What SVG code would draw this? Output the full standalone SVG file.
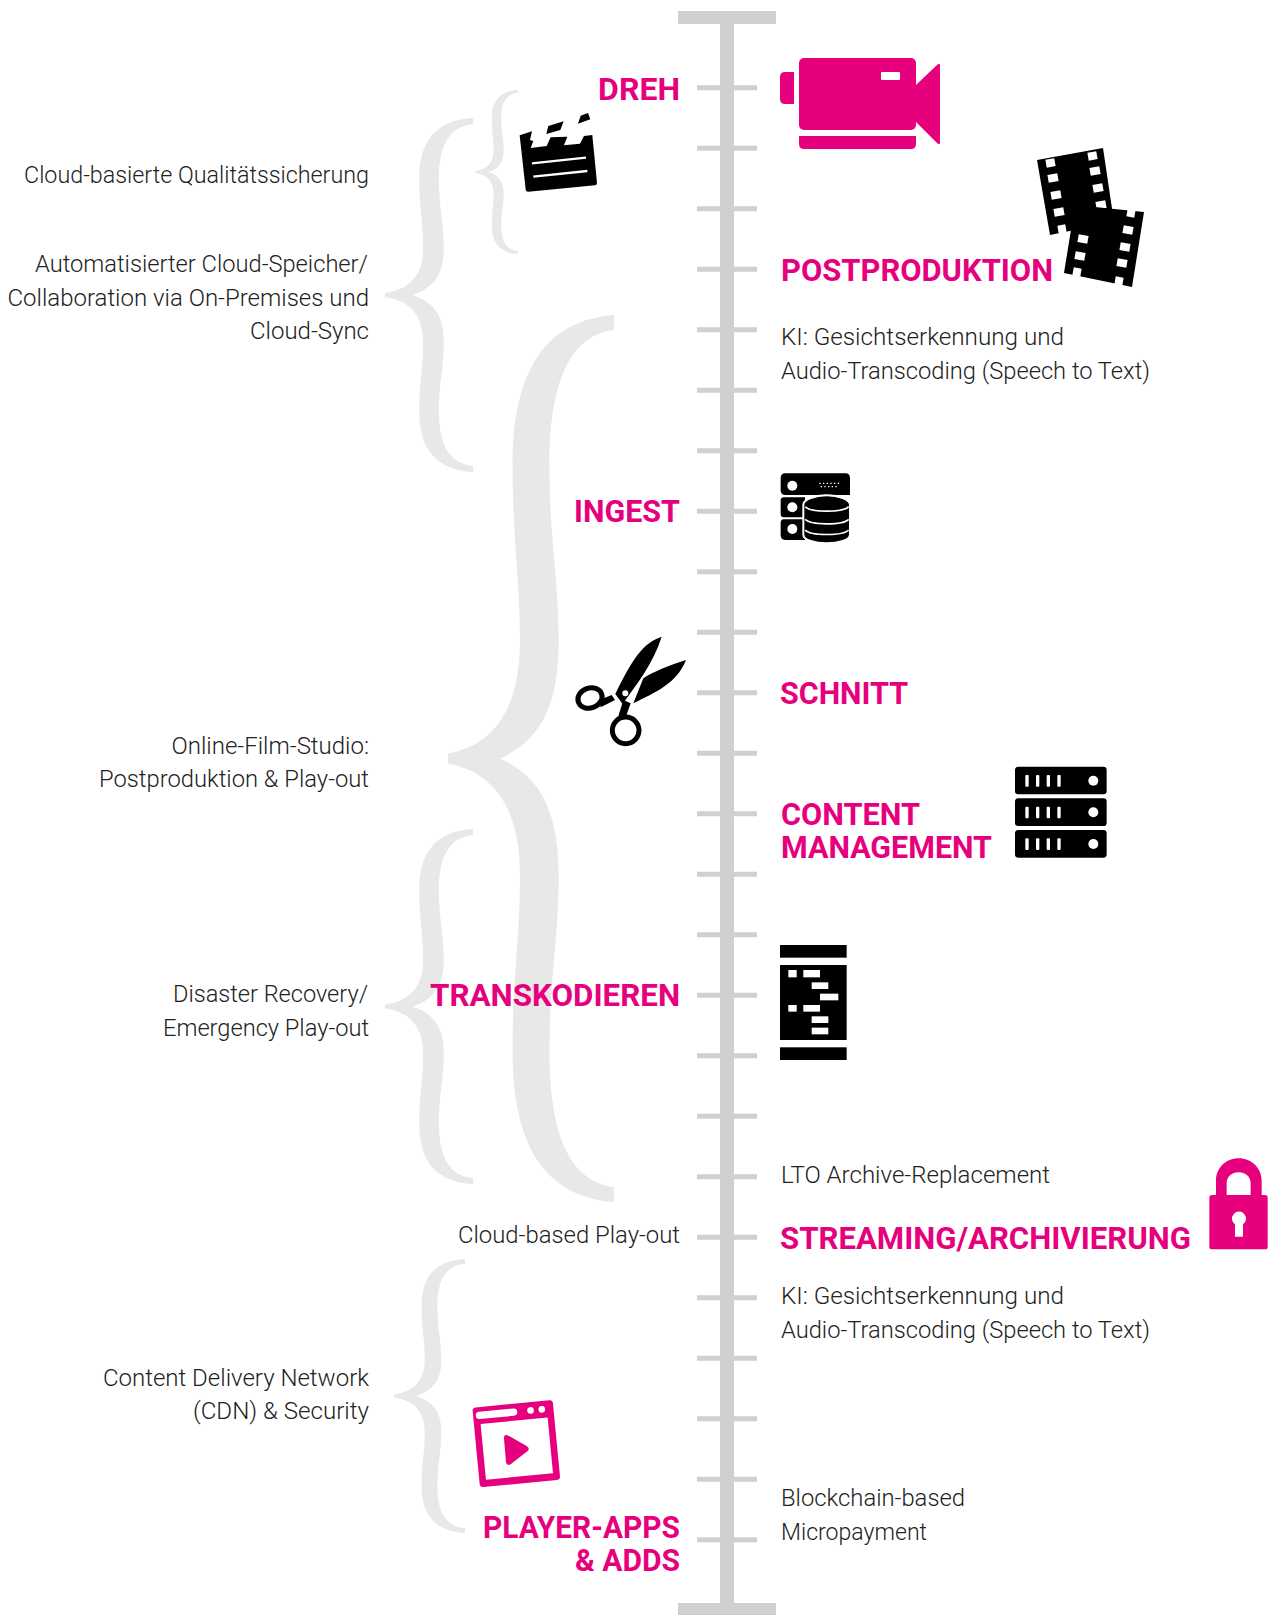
<svg xmlns="http://www.w3.org/2000/svg" width="1275" height="1615" viewBox="0 0 1275 1615">
<style>
.h{font-family:Roboto,"Liberation Sans",sans-serif;font-weight:700;font-size:32px;fill:#e6007e}
.t{font-family:Roboto,"Liberation Sans",sans-serif;font-weight:300;font-size:24px;fill:#222}
.e{text-anchor:end}
.p{fill:#e6007e}
.k{fill:#000}
.w{fill:#fff}
.b{fill:#e8e8e7}
.a{fill:#d0d0d0}
</style>
<defs>
<path id="brace" d="M90 0C55 2 35 20 35 60C35 90 39 105 39 130C39 160 22 172 0 175L0 179C22 182 39 194 39 224C39 249 35 264 35 294C35 334 55 352 90 354L90 348C68 346 55 330 55 294C55 264 60 249 60 224C60 198 50 184 28 177C50 170 60 156 60 130C60 105 55 90 55 60C55 24 68 8 90 6Z"/>
</defs>
<rect width="1275" height="1615" fill="#fff"/>
<g id="braces" class="b">
<use href="#brace" transform="translate(385 118) scale(.98 1)"/>
<use href="#brace" transform="translate(475 90) scale(.478 .463)"/>
<use href="#brace" transform="translate(448 315) scale(1.845 2.506)"/>
<use href="#brace" transform="translate(385 829) scale(.98 1.003)"/>
<use href="#brace" transform="translate(394 1259) scale(.789 .774)"/>
</g>
<g id="connectors" class="a">
<rect x="678" y="11" width="98" height="13"/>
<rect x="678" y="1603" width="98" height="12"/>
<rect x="720" y="11" width="14" height="1604"/>
<path d="M697 85.2h60v5h-60zM697 145.7h60v5h-60zM697 206.2h60v5h-60zM697 266.7h60v5h-60zM697 327.2h60v5h-60zM697 387.7h60v5h-60zM697 448.2h60v5h-60zM697 508.7h60v5h-60zM697 569.2h60v5h-60zM697 629.7h60v5h-60zM697 690.2h60v5h-60zM697 750.7h60v5h-60zM697 811.2h60v5h-60zM697 871.7h60v5h-60zM697 932.2h60v5h-60zM697 992.7h60v5h-60zM697 1053.2h60v5h-60zM697 1113.7h60v5h-60zM697 1174.2h60v5h-60zM697 1234.7h60v5h-60zM697 1295.2h60v5h-60zM697 1355.7h60v5h-60zM697 1416.2h60v5h-60zM697 1476.7h60v5h-60zM697 1537.2h60v5h-60z"/>
</g>
<g id="dreh"><text class="h e" x="680" y="100">DREH</text>
<g id="clapper" transform="translate(360 0) scale(.3333)" class="k">
<path d="M479 406L516 394L510 420L520 423L512 444L560 438L572 412L622 410L612 436L660 431L672 408L697 405L711 548Q712 555 705 556L505 575Q497 575 497 568Z"/>
<path d="M565 378L611 364L601 390L559 402ZM662 347L684 339L691 358L654 371Z"/>
<path d="M516 490L678 473M520 530L682 513" stroke="#fff" stroke-width="7"/>
</g>
<g id="camera" class="p">
<rect x="799" y="58" width="117" height="72" rx="5"/>
<path d="M799 136H916V144Q916 149 911 149H804Q799 149 799 144Z"/>
<path d="M794 72H785Q780 72 780 77V99Q780 104 785 104H794Z"/>
<path d="M916 85L937 65Q940 62 940 66V142Q940 146 937 143L916 122Z"/>
<rect class="w" x="881" y="72" width="19" height="8" rx="1"/>
</g></g>
<g id="postproduktion"><text class="h" x="781" y="281" textLength="272" lengthAdjust="spacingAndGlyphs">POSTPRODUKTION</text>
<g id="film">
<path class="k" d="M1037 160L1103 148L1114 222L1050 235Z"/>
<g class="w">
<rect x="1046" y="159" width="9" height="8" transform="rotate(-10 1050 163)"/><rect x="1088" y="152" width="9" height="8" transform="rotate(-10 1092 156)"/>
<rect x="1048" y="174" width="10" height="8" transform="rotate(-10 1053 178)"/><rect x="1051" y="191" width="10" height="8" transform="rotate(-10 1056 195)"/><rect x="1054" y="208" width="10" height="8" transform="rotate(-10 1059 212)"/>
<rect x="1090" y="167" width="10" height="8" transform="rotate(-10 1095 171)"/><rect x="1093" y="184" width="10" height="8" transform="rotate(-10 1098 188)"/><rect x="1096" y="201" width="10" height="8" transform="rotate(-10 1101 205)"/>
<rect x="1058" y="225" width="8" height="8" transform="rotate(-10 1062 229)"/>
</g>
<path class="k" d="M1075 205L1144 212L1132 287L1064 273Z"/>
<g class="w">
<rect x="1127" y="209" width="8" height="8" transform="rotate(10 1131 213)"/>
<rect x="1078" y="235" width="10" height="8" transform="rotate(10 1083 239)"/><rect x="1075" y="252" width="10" height="8" transform="rotate(10 1080 256)"/>
<rect x="1123" y="226" width="10" height="8" transform="rotate(10 1128 230)"/><rect x="1120" y="243" width="10" height="8" transform="rotate(10 1125 247)"/><rect x="1117" y="259" width="10" height="8" transform="rotate(10 1122 263)"/>
<rect x="1073" y="268" width="8" height="8" transform="rotate(10 1077 272)"/><rect x="1115" y="277" width="8" height="8" transform="rotate(10 1119 281)"/>
</g></g>
<text class="t" x="781" y="345" textLength="283" lengthAdjust="spacingAndGlyphs">KI: Gesichtserkennung und</text>
<text class="t" x="781" y="379" textLength="369" lengthAdjust="spacingAndGlyphs">Audio-Transcoding (Speech to Text)</text></g>
<g id="qa"><text class="t" x="24" y="183" textLength="345" lengthAdjust="spacingAndGlyphs">Cloud-basierte Qualitätssicherung</text></g>
<g id="cloud-speicher"><text class="t" x="35" y="272" textLength="333" lengthAdjust="spacingAndGlyphs">Automatisierter Cloud-Speicher/</text>
<text class="t e" x="369" y="306">Collaboration via On-Premises und</text>
<text class="t e" x="369" y="339">Cloud-Sync</text></g>
<g id="ingest"><text class="h" x="574" y="522" textLength="106" lengthAdjust="spacingAndGlyphs">INGEST</text>
<g id="database" transform="translate(770 460) scale(.3333)" class="k">
<path d="M46 40H226Q240 40 240 54V105H46Q32 105 32 91V54Q32 40 46 40Z"/>
<path d="M32 122Q32 112 42 112H105V172H42Q32 172 32 162Z"/>
<path d="M32 188Q32 178 42 178H105V240H46Q32 240 32 226Z"/>
<g class="w"><circle cx="67" cy="77" r="15"/><circle cx="67" cy="142" r="15"/><circle cx="67" cy="207" r="15"/></g>
<path d="M100 134C100 118 135 106 170 106S240 118 240 134V224C240 240 205 250 170 250S100 240 100 224Z" stroke="#fff" stroke-width="6"/>
<path d="M106 140C120 158 220 158 236 140M106 178C120 196 220 196 236 178M106 210C120 228 220 228 236 210" fill="none" stroke="#fff" stroke-width="5"/>
<path d="M148 70h60M152 80h52" stroke="#fff" stroke-width="4" stroke-dasharray="4 7" fill="none"/>
</g></g>
<g id="schnitt"><text class="h" x="780" y="704" textLength="128" lengthAdjust="spacingAndGlyphs">SCHNITT</text>
<g id="scissors" transform="translate(560 620) scale(.3333)">
<path class="k" d="M305 50C255 68 225 100 166 222L188 252C232 190 280 130 305 50Z"/>
<path class="k" d="M378 120C330 135 280 155 250 175L220 250C290 215 350 190 378 120Z"/>
<ellipse cx="90" cy="234" rx="37" ry="30" transform="rotate(-20 90 234)" fill="none" stroke="#000" stroke-width="15"/>
<path d="M122 262L165 240L155 225L118 240Z" class="k"/>
<circle cx="197" cy="331" r="40" fill="none" stroke="#000" stroke-width="15"/>
<path d="M190 240L212 250L197 292L170 305Z" class="k"/>
<circle class="w" cx="196" cy="220" r="9"/>
</g></g>
<g id="content-management"><text class="h" x="781" y="825" textLength="139" lengthAdjust="spacingAndGlyphs">CONTENT</text>
<text class="h" x="781" y="858" textLength="211" lengthAdjust="spacingAndGlyphs">MANAGEMENT</text>
<g id="servers" transform="translate(1000 755) scale(.3333)">
<g class="k"><rect x="45" y="35" width="275" height="83" rx="10"/><rect x="45" y="130" width="275" height="83" rx="10"/><rect x="45" y="225" width="275" height="83" rx="10"/></g>
<g class="w">
<rect x="76" y="60" width="10" height="35" rx="3"/><rect x="108" y="60" width="10" height="35" rx="3"/><rect x="140" y="60" width="10" height="35" rx="3"/><rect x="172" y="60" width="10" height="35" rx="3"/><circle cx="280" cy="77" r="15"/>
<rect x="76" y="155" width="10" height="35" rx="3"/><rect x="108" y="155" width="10" height="35" rx="3"/><rect x="140" y="155" width="10" height="35" rx="3"/><rect x="172" y="155" width="10" height="35" rx="3"/><circle cx="280" cy="172" r="15"/>
<rect x="76" y="250" width="10" height="35" rx="3"/><rect x="108" y="250" width="10" height="35" rx="3"/><rect x="140" y="250" width="10" height="35" rx="3"/><rect x="172" y="250" width="10" height="35" rx="3"/><circle cx="280" cy="267" r="15"/>
</g></g></g>
<g id="online-studio"><text class="t e" x="369" y="754">Online-Film-Studio:</text>
<text class="t" x="99" y="787" textLength="270" lengthAdjust="spacingAndGlyphs">Postproduktion &amp; Play-out</text></g>
<g id="disaster"><text class="t" x="173" y="1002" textLength="195" lengthAdjust="spacingAndGlyphs">Disaster Recovery/</text>
<text class="t" x="163" y="1036" textLength="206" lengthAdjust="spacingAndGlyphs">Emergency Play-out</text></g>
<g id="transkodieren"><text class="h" x="430" y="1006" textLength="250" lengthAdjust="spacingAndGlyphs">TRANSKODIEREN</text>
<g id="transcode" transform="translate(770 935) scale(.3333)">
<g class="k"><rect x="30" y="30" width="200" height="38"/><rect x="30" y="90" width="200" height="225"/><rect x="30" y="337" width="200" height="38"/></g>
<g class="w"><rect x="55" y="105" width="25" height="22"/><rect x="100" y="105" width="50" height="22"/><rect x="125" y="142" width="50" height="20"/><rect x="150" y="176" width="55" height="20"/><rect x="55" y="210" width="25" height="20"/><rect x="100" y="210" width="50" height="20"/><rect x="125" y="244" width="50" height="20"/><rect x="125" y="278" width="50" height="20"/></g>
</g></g>
<g id="lto"><text class="t" x="781" y="1183" textLength="269" lengthAdjust="spacingAndGlyphs">LTO Archive-Replacement</text></g>
<g id="playout"><text class="t" x="458" y="1243" textLength="222" lengthAdjust="spacingAndGlyphs">Cloud-based Play-out</text></g>
<g id="streaming"><text class="h" x="780" y="1249" textLength="411" lengthAdjust="spacingAndGlyphs">STREAMING/ARCHIVIERUNG</text>
<g id="lock" transform="translate(1190 1145) scale(.3333)">
<path class="p" d="M78 150V108C78 68 108 40 146 40S215 68 215 108V150H182V115C182 95 166 82 146 82S110 95 110 115V150Z"/>
<rect class="p" x="58" y="150" width="175" height="163" rx="8"/>
<path class="w" d="M135 275V238A21 21 0 1 1 159 238V275Z"/>
</g></g>
<g id="ki2"><text class="t" x="781" y="1304" textLength="283" lengthAdjust="spacingAndGlyphs">KI: Gesichtserkennung und</text>
<text class="t" x="781" y="1338" textLength="369" lengthAdjust="spacingAndGlyphs">Audio-Transcoding (Speech to Text)</text></g>
<g id="cdn"><text class="t e" x="369" y="1386">Content Delivery Network</text>
<text class="t" x="193" y="1419" textLength="176" lengthAdjust="spacingAndGlyphs">(CDN) &amp; Security</text></g>
<g id="player"><text class="h" x="483" y="1538" textLength="197" lengthAdjust="spacingAndGlyphs">PLAYER-APPS</text>
<text class="h" x="575" y="1571" textLength="105" lengthAdjust="spacingAndGlyphs">&amp; ADDS</text>
<g id="player-icon" transform="translate(380 1250) scale(.3333)">
<g transform="rotate(-5.5 409 581)">
<rect class="p" x="288" y="461" width="242" height="240" rx="10"/>
<rect class="w" x="308" y="512" width="202" height="168"/>
<rect class="w" x="296" y="475" width="125" height="22" rx="11"/>
<circle class="w" cx="461" cy="486" r="10"/><circle class="w" cx="495" cy="486" r="10"/>
</g>
<path class="p" d="M372 565Q372 550 386 557L440 588Q452 596 442 604L393 642Q380 650 378 636Z"/>
</g></g>
<g id="blockchain"><text class="t" x="781" y="1506" textLength="184" lengthAdjust="spacingAndGlyphs">Blockchain-based</text>
<text class="t" x="781" y="1540" textLength="146" lengthAdjust="spacingAndGlyphs">Micropayment</text></g>
</svg>
